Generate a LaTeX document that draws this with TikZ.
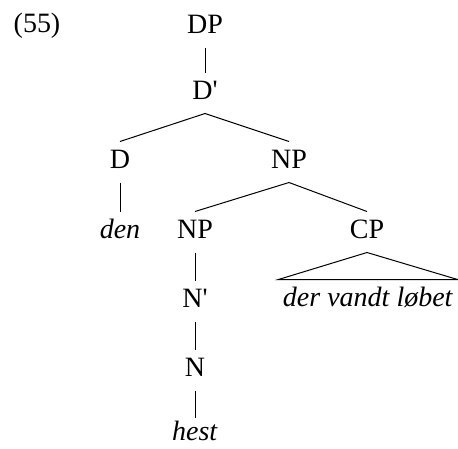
\documentclass[tikz,border=0pt]{standalone}
\usepackage{fontspec}
\setmainfont{Liberation Serif}
\usepackage{tikz}

\begin{document}
\begin{tikzpicture}[x=1pt, y=-1pt, line width=1pt,
	every node/.style={font=\fontsize{28}{34}\selectfont, anchor=base,
		text height=22pt, text depth=10pt, inner sep=4pt}]
	\useasboundingbox (0,0) rectangle (458,448);
	\path (37,32) node (ex) {(55)};
	\path (205,33) node (dp) {DP};
	\path (205,99) node (dbar) {D\textquotesingle};
	\path (120,168) node (d) {D};
	\path (289,168) node (np) {NP};
	\path (120,238) node (den) {\textit{den}};
	\path (195,238) node (npb) {NP};
	\path (367,238) node (cp) {CP};
	\path (195,307) node (nbar) {N\textquotesingle};
	\path (368,306) node (clause) {\textit{der vandt løbet}};
	\path (195,376) node (n) {N};
	\path (195,440) node [text depth=0pt, inner ysep=1pt, text height=21pt] (hest) {\textit{hest}};
	\draw (dp.south) -- (dbar.north);
	\draw (d.north) -- (dbar.south) -- (np.north);
	\draw (d.south) -- (den.north);
	\draw (npb.north) -- (np.south) -- (cp.north);
	\draw (npb.south) -- (nbar.north);
	\draw (nbar.south) -- (n.north);
	\draw (n.south) -- (hest.north);
	\draw (cp.south) -- (clause.north west) -- (clause.north east) -- cycle;
\end{tikzpicture}
\end{document}
